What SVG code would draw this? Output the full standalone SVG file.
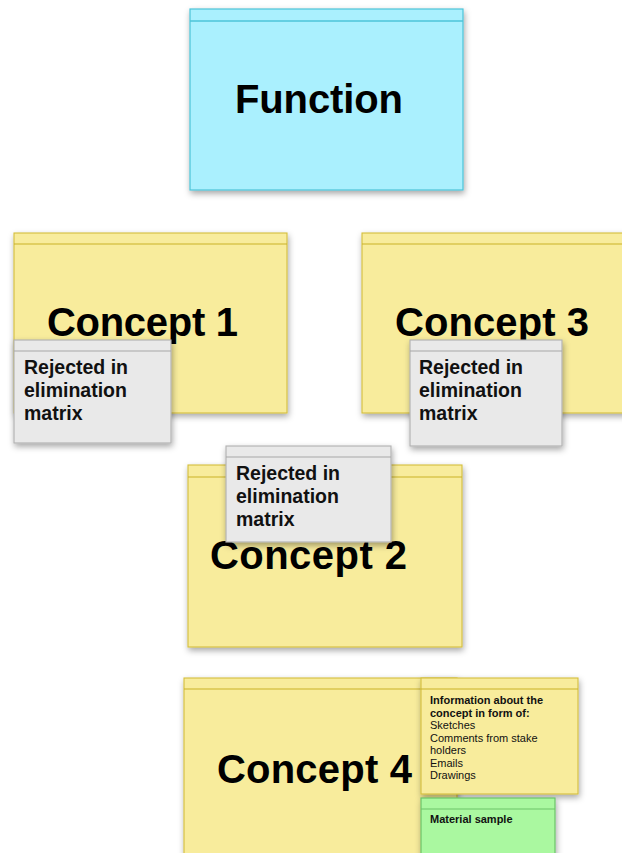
<svg xmlns="http://www.w3.org/2000/svg" width="622" height="853" viewBox="0 0 622 853">
<defs>
<filter id="sh" x="-10%" y="-10%" width="125%" height="130%">
<feDropShadow dx="1" dy="3" stdDeviation="3" flood-color="#000" flood-opacity="0.35"/>
</filter>
</defs>
<style>
.cyan{fill:#aaf0fe;stroke:#4cc4d8;stroke-width:1.2}
.cyanh{stroke:#4cc4d8;stroke-width:1.5}
.yel{fill:#f8ec9c;stroke:#d4be3c;stroke-width:1.1}
.yelh{stroke:#c9b227;stroke-width:1.2}
.gray{fill:#e9e9e9;stroke:#b0b0b0;stroke-width:1.1}
.grayh{stroke:#a8a8a8;stroke-width:1.2}
.grn{fill:#aaf8a0;stroke:#6cc468;stroke-width:1.2}
.grnh{stroke:#6cc468;stroke-width:1.2}
.big{font-family:"Liberation Sans",Arial,sans-serif;font-weight:bold;font-size:40px;fill:#000}
.mid{font-family:"Liberation Sans",Arial,sans-serif;font-weight:bold;font-size:19.5px;fill:#111}
.sm{font-family:"Liberation Sans",Arial,sans-serif;font-size:11px;fill:#111}
.smb{font-family:"Liberation Sans",Arial,sans-serif;font-size:11px;font-weight:bold;fill:#111}
</style>
<g id="connectors"/>
<g id="function">
<rect class="cyan" x="190" y="9" width="273" height="181" filter="url(#sh)"/>
<line class="cyanh" x1="190" y1="21" x2="463" y2="21"/>
<text class="big" x="235" y="113" textLength="168">Function</text>
</g>
<g id="concept1">
<rect class="yel" x="14" y="233" width="273" height="180" filter="url(#sh)"/>
<line class="yelh" x1="14" y1="244" x2="287" y2="244"/>
<text class="big" x="47" y="336" textLength="191">Concept 1</text>
</g>
<g id="concept3">
<rect class="yel" x="362" y="233" width="275" height="180" filter="url(#sh)"/>
<line class="yelh" x1="362" y1="244" x2="637" y2="244"/>
<text class="big" x="395" y="336" textLength="194">Concept 3</text>
</g>
<g id="rejected1">
<rect class="gray" x="14" y="340" width="157" height="103" filter="url(#sh)"/>
<line class="grayh" x1="14" y1="351" x2="171" y2="351"/>
<text class="mid" x="24" y="374">Rejected in</text>
<text class="mid" x="24" y="397">elimination</text>
<text class="mid" x="24" y="420">matrix</text>
</g>
<g id="rejected3">
<rect class="gray" x="410" y="340" width="152" height="106" filter="url(#sh)"/>
<line class="grayh" x1="410" y1="351" x2="562" y2="351"/>
<text class="mid" x="419" y="374">Rejected in</text>
<text class="mid" x="419" y="397">elimination</text>
<text class="mid" x="419" y="420">matrix</text>
</g>
<g id="concept2">
<rect class="yel" x="188" y="465" width="274" height="182" filter="url(#sh)"/>
<line class="yelh" x1="188" y1="477" x2="462" y2="477"/>
<text class="big" x="210" y="569" textLength="197">Concept 2</text>
</g>
<g id="rejected2">
<rect class="gray" x="226" y="446" width="165" height="96" filter="url(#sh)"/>
<line class="grayh" x1="226" y1="457" x2="391" y2="457"/>
<text class="mid" x="236" y="480">Rejected in</text>
<text class="mid" x="236" y="503">elimination</text>
<text class="mid" x="236" y="526">matrix</text>
</g>
<g id="concept4">
<rect class="yel" x="184" y="678" width="273" height="190" filter="url(#sh)"/>
<line class="yelh" x1="184" y1="689" x2="457" y2="689"/>
<text class="big" x="217" y="783" textLength="195">Concept 4</text>
</g>
<g id="info">
<rect class="yel" x="421" y="678" width="157" height="116" filter="url(#sh)"/>
<line class="yelh" x1="421" y1="689" x2="578" y2="689"/>
<text class="smb" x="430" y="704">Information about the</text>
<text class="smb" x="430" y="717">concept in form of:</text>
<text class="sm" x="430" y="729">Sketches</text>
<text class="sm" x="430" y="742">Comments from stake</text>
<text class="sm" x="430" y="754">holders</text>
<text class="sm" x="430" y="767">Emails</text>
<text class="sm" x="430" y="779">Drawings</text>
</g>
<g id="material">
<rect class="grn" x="421" y="798" width="134" height="70" filter="url(#sh)"/>
<line class="grnh" x1="421" y1="809" x2="555" y2="809"/>
<text class="smb" x="430" y="823">Material sample</text>
</g>
</svg>
